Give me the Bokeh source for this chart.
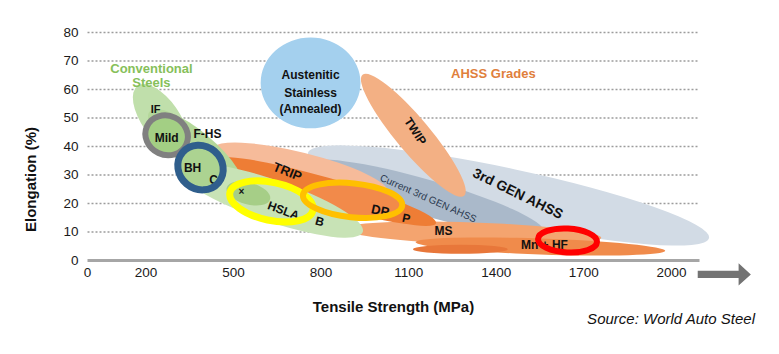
import numpy as np
from bokeh.plotting import figure
from bokeh.models import ColumnDataSource, FixedTicker, Range1d
from bokeh.core.properties import value
from bokeh.embed import file_html
from bokeh.resources import INLINE

# ---------------- data ----------------
x_ticks = [0, 200, 500, 800, 1100, 1400, 1700, 2000]
y_ticks = [0, 10, 20, 30, 40, 50, 60, 70, 80]
axis_end = 2096          # end of the tensile-strength axis line (MPa)

# steel grade regions: centre tensile strength (MPa), centre elongation (%),
# spread in strength (MPa), spread in elongation (%), tilt (deg)  -- back to front
region_names = ["Austenitic SS", "3rd GEN AHSS", "Current 3rd GEN", "TWIP", "TRIP halo",
                "MS", "Mn+HF", "HF core", "TRIP", "DP", "IF", "IF-HS", "HSLA band",
                "Mild", "BH", "HSLA core"]
region_ts = [764, 1442, 1158, 1116, 729, 1318, 1551, 1277, 815, 908, 250, 370, 627, 271, 387, 551]
region_el = [62.3, 22.8, 22.1, 43.9, 31.6, 9.5, 4.9, 3.9, 24.2, 21.1, 49.8, 38.6, 21.1, 43.9, 32.6, 23.5]
region_ts_span = [342, 1404, 839, 541, 616, 884, 856, 325, 788, 342, 274, 411, 668, 137, 158, 154]
region_el_span = [31.9, 18.9, 12.6, 11.9, 12.6, 7.7, 5.6, 3.2, 9.8, 12.6, 13.3, 13.3, 14.6, 12.6, 14.7, 7.7]
region_tilt = [0, -12, -16, -50, -14, -2, -2, 0, -16, -6, -55, -40, -19, -30, -35, -15]

# highlighted grades (rings)
ring_names = ["Mild", "BH", "HSLA", "DP", "Mn+HF"]
ring_ts = [271, 387, 630, 908, 1644]
ring_el = [43.9, 32.6, 20.7, 21.1, 7.0]
ring_ts_span = [148, 161, 291, 342, 202]
ring_el_span = [13.7, 15.1, 13.3, 11.9, 8.4]
ring_tilt = [-25, -40, -12, -6, -3]

# grade labels
label_text = ["IF", "Mild", "F-HS", "BH", "C", "×", "HSLA", "B", "TRIP", "DP", "P", "MS",
              "Mn + HF", "TWIP", "3rd GEN AHSS", "Austenitic", "Stainless", "(Annealed)"]
label_ts = [233, 271, 411, 360, 432, 527, 671, 795, 685, 1003, 1092, 1219, 1565, 1123, 1476, 764, 764, 764]
label_el = [53.0, 42.8, 44.2, 32.3, 28.4, 24.2, 17.5, 13.7, 31.2, 17.5, 14.7, 10.2, 5.3, 45.3, 23.5, 64.9, 58.9, 53.3]
label_tilt = [0, 0, 0, 0, 0, 0, -20, -15, -22, -12, -12, 0, 0, -57, -26, 0, 0, 0]

group_text = ["Conventional", "Steels", "AHSS Grades"]
group_ts = [219, 219, 1390]
group_el = [67.4, 62.5, 65.6]

sub_text = ["Current 3rd GEN AHSS"]
sub_ts = [1168]
sub_el = [21.8]
sub_tilt = [-24]

source_note = "Source: World Auto Steel"

# ---------------- styles ----------------
region_colors = {
    "Austenitic SS": "#a4d0ee", "3rd GEN AHSS": "#d2dbe5", "Current 3rd GEN": "#aab9ca",
    "TWIP": "#f3b084", "TRIP halo": "#f6bb9a", "MS": "#f4a46f", "Mn+HF": "#f08b4b",
    "HF core": "#e8773a", "TRIP": "#ee7d35", "DP": "#f28a4a", "IF": "#c0dfab",
    "IF-HS": "#b4d89a", "HSLA band": "#c8e3b6", "Mild": "#a3cf84", "BH": "#acd391",
    "HSLA core": "#a6ce87",
}
ring_colors = {"Mild": "#808080", "BH": "#2f5e8c", "HSLA": "#ffff00", "DP": "#ffc000", "Mn+HF": "#ff0000"}
ring_widths = {"Mild": 6, "BH": 7, "HSLA": 7, "DP": 6, "Mn+HF": 6}
label_sizes = {"IF": "11px", "Mild": "12px", "F-HS": "12px", "BH": "12px", "C": "12px", "×": "10px",
               "HSLA": "12px", "B": "12px", "TRIP": "13px", "DP": "13px", "P": "12px", "MS": "12px",
               "Mn + HF": "12px", "TWIP": "12px", "3rd GEN AHSS": "14px", "Austenitic": "12px",
               "Stainless": "12px", "(Annealed)": "12px"}
group_colors = {"Conventional": "#86c05a", "Steels": "#86c05a", "AHSS Grades": "#e0803c"}

FONT = "Liberation Sans"

# frame covers the plot area plus the strip below the axis (arrow + source note);
# the x axis is pinned at elongation 0
p = figure(width=779, height=354, x_range=Range1d(-24, 2305), y_range=Range1d(-28.1, 84.9),
           output_backend="svg", toolbar_location=None,
           min_border_left=80, min_border_right=19, min_border_top=18, min_border_bottom=14)
p.outline_line_color = None
p.background_fill_color = "white"
p.border_fill_color = "white"

# axes
p.xaxis.ticker = FixedTicker(ticks=x_ticks)
p.yaxis.ticker = FixedTicker(ticks=y_ticks)
p.xaxis.fixed_location = 0
p.xaxis.bounds = (0, axis_end)
p.yaxis.bounds = (y_ticks[0], y_ticks[-1])
for ax in (p.xaxis, p.yaxis):
    ax.major_tick_line_color = None
    ax.minor_tick_line_color = None
    ax.major_tick_out = 0
    ax.major_tick_in = 0
    ax.minor_tick_out = 0
    ax.minor_tick_in = 0
    ax.major_label_text_font = FONT
    ax.major_label_text_font_size = "13.5px"
    ax.major_label_text_color = "#1a1a1a"
    ax.axis_label_text_font = FONT
    ax.axis_label_text_font_style = "bold"
    ax.axis_label_text_font_size = "15px"
    ax.axis_label_text_color = "#111111"
p.xaxis.axis_line_color = "#a6a6a6"
p.xaxis.axis_line_width = 3
p.yaxis.axis_line_color = None
p.xaxis.major_label_standoff = 8
p.yaxis.major_label_standoff = 2
p.xaxis.axis_label = "Tensile Strength (MPa)"
p.yaxis.axis_label = "Elongation (%)"
p.xaxis.axis_label_standoff = 17
p.yaxis.axis_label_standoff = 21

p.xgrid.visible = False
p.ygrid.visible = False
grid_y = y_ticks[1:]
p.segment(x0=[0] * len(grid_y), y0=grid_y, x1=[axis_end] * len(grid_y), y1=grid_y,
          line_color="#9c9c9c", line_dash="2 2", line_width=1.5)

# filled regions
reg_src = ColumnDataSource(dict(
    ts=region_ts, el=region_el, w=region_ts_span, h=region_el_span, ang=region_tilt,
    color=[region_colors[n] for n in region_names]))
p.ellipse(x="ts", y="el", width="w", height="h", angle="ang", angle_units="deg",
          source=reg_src, fill_color="color", line_color=None)

# labels
lab_src = ColumnDataSource(dict(x=label_ts, y=label_el, t=label_text, ang=label_tilt,
                                size=[label_sizes[t] for t in label_text]))
p.text(x="x", y="y", text="t", angle="ang", angle_units="deg", source=lab_src,
       text_font=value(FONT), text_font_style="bold", text_font_size="size",
       text_align="center", text_baseline="middle", text_color="#111111")

sub_src = ColumnDataSource(dict(x=sub_ts, y=sub_el, t=sub_text, ang=sub_tilt))
p.text(x="x", y="y", text="t", angle="ang", angle_units="deg", source=sub_src,
       text_font=value(FONT), text_font_size="10px",
       text_align="center", text_baseline="middle", text_color="#2b3a4f")

grp_src = ColumnDataSource(dict(x=group_ts, y=group_el, t=group_text,
                                c=[group_colors[t] for t in group_text]))
p.text(x="x", y="y", text="t", source=grp_src, text_font=value(FONT),
       text_font_style="bold", text_font_size="13px", text_align="center",
       text_baseline="middle", text_color="c")

# rings
ring_src = ColumnDataSource(dict(ts=ring_ts, el=ring_el, w=ring_ts_span, h=ring_el_span,
                                 ang=ring_tilt, c=[ring_colors[n] for n in ring_names],
                                 lw=[ring_widths[n] for n in ring_names]))
p.ellipse(x="ts", y="el", width="w", height="h", angle="ang", angle_units="deg",
          source=ring_src, fill_color=None, line_color="c", line_width="lw")

# decorative direction arrow just after the axis end (in the strip below the axis)
a0, a1, a2 = axis_end - 6, axis_end + 134, axis_end + 176
ay, sh, hh = -4.9, 1.25, 3.9
p.patch(x=[a0, a1, a1, a2, a1, a1, a0],
        y=[ay + sh, ay + sh, ay + hh, ay, ay - hh, ay - sh, ay - sh],
        fill_color="#737373", line_color=None)

# source note
p.text(x=[axis_end + 192], y=[-20.4], text=[source_note], text_font=value(FONT),
       text_font_style="italic", text_font_size="15px", text_align="right",
       text_baseline="middle", text_color="#111111")

open("out.html", "w").write(file_html(p, INLINE))
